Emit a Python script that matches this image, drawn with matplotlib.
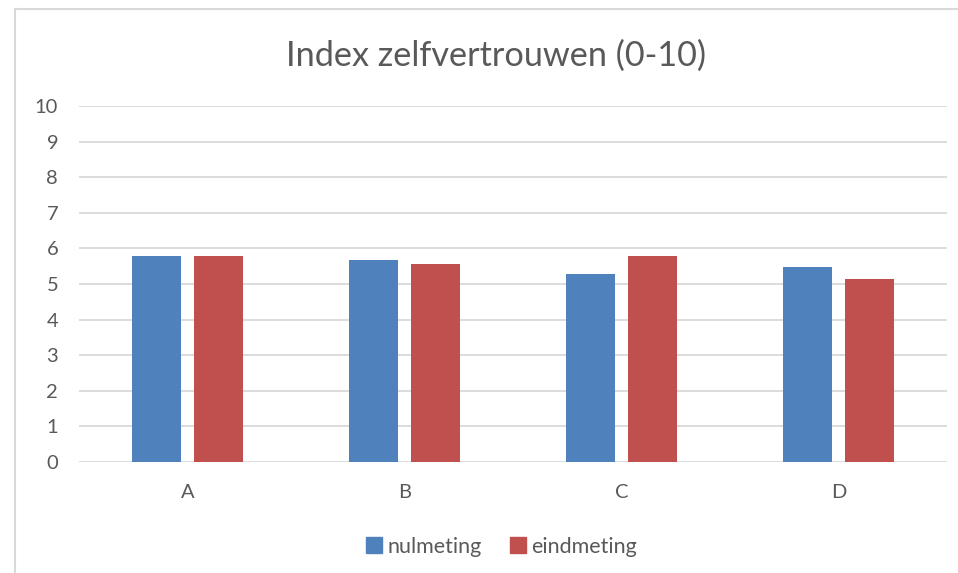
import numpy as np
import matplotlib.pyplot as plt
from matplotlib.lines import Line2D

categories = ["A", "B", "C", "D"]
nulmeting = [5.78, 5.67, 5.27, 5.49]
eindmeting = [5.78, 5.57, 5.78, 5.13]
series_names = ["nulmeting", "eindmeting"]
yticks = list(range(0, 11))

plt.rcParams['font.family'] = ['Lato', 'DejaVu Sans']
text_color = "#595959"
blue = "#4F81BD"
red = "#C0504D"

fig = plt.figure(figsize=(9.58, 5.73), dpi=100)
ax = fig.add_axes([0.0825, 0.1937, 0.906, 0.6213])

x = np.arange(len(categories))
w = 0.226
gap = 0.06
ax.bar(x - (w + gap) / 2, nulmeting, w, color=blue, label=series_names[0], zorder=3)
ax.bar(x + (w + gap) / 2, eindmeting, w, color=red, label=series_names[1], zorder=3)

ax.set_xlim(-0.5, len(categories) - 0.5)
ax.set_ylim(0, 10)
ax.set_yticks(yticks)
ax.set_xticks(x)
ax.set_xticklabels(categories)
ax.grid(axis="y", color="#D9D9D9", lw=1.3, zorder=0)
for s in ax.spines.values():
    s.set_visible(False)
ax.tick_params(axis="both", length=0, colors=text_color, labelsize=14.5)
ax.tick_params(axis="y", pad=15)
ax.tick_params(axis="x", pad=16)

fig.text(0.518, 0.902, "Index zelfvertrouwen (0-10)", ha="center", va="center",
         fontsize=24.7, color=text_color)

handles = [Line2D([], [], marker="s", ls="", color=blue, markersize=11),
           Line2D([], [], marker="s", ls="", color=red, markersize=11)]
fig.legend(handles, series_names, loc="center", bbox_to_anchor=(0.522, 0.046),
           ncol=2, frameon=False, fontsize=15.5, labelcolor=text_color,
           handletextpad=0.1, columnspacing=1.2, handlelength=1.0)

# chart frame (top and left edges visible)
fig.add_artist(Line2D([0.016, 0.016], [0, 0.985], color="#D9D9D9", lw=1.5))
fig.add_artist(Line2D([0.016, 1.0], [0.985, 0.985], color="#D9D9D9", lw=1.5))

fig.savefig("out.png", dpi=100)
